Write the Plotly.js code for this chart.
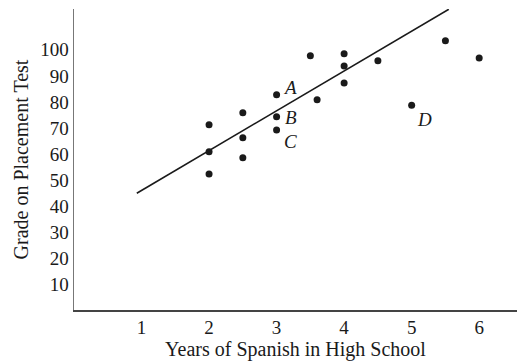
<!DOCTYPE html>
<html>
<head>
<meta charset="utf-8">
<script src="https://cdn.plot.ly/plotly-3.0.1.min.js"></script>
<style>html,body{margin:0;padding:0;background:#fff;}#chart{width:517px;height:364px;}</style>
</head>
<body>
<div id="chart"></div>
<script>
// Data
const years  = [2, 2, 2, 2.5, 2.5, 2.5, 3, 3, 3, 3.5, 3.6, 4, 4, 4, 4.5, 5, 5.5, 6];
const grades = [71.2, 60.8, 52.3, 75.8, 66.2, 58.5, 82.7, 74.3, 69.2, 97.7, 80.8, 98.5, 93.8, 87.3, 95.8, 78.7, 103.5, 96.9];
const fitX = [0.93, 5.55];
const fitY = [44.9, 115.6];
const xTicks = [1, 2, 3, 4, 5, 6];
const yTicks = [10, 20, 30, 40, 50, 60, 70, 80, 90, 100];
const labelNames = ['A', 'B', 'C', 'D'];
const labelX = [3, 3, 3, 5];
const labelY = [82.7, 74.3, 69.2, 78.7];

const font = 'Liberation Serif, Times New Roman, serif';
const ink = '#1a1a1a';
const shifts = [[13, 7], [14, -1], [14, -12], [13, -14]];

const traces = [
  {x: fitX, y: fitY, mode: 'lines', line: {color: ink, width: 1.6}, hoverinfo: 'skip', cliponaxis: true},
  {x: years, y: grades, mode: 'markers', marker: {color: ink, size: 7}, cliponaxis: false}
];

const annotations = labelNames.map((t, i) => ({
  x: labelX[i], y: labelY[i], xref: 'x', yref: 'y', text: t, showarrow: false,
  xshift: shifts[i][0], yshift: shifts[i][1],
  font: {family: font, size: 19, color: ink, style: 'italic'}
}));

const layout = {
  width: 517, height: 364,
  margin: {l: 74, r: 0, t: 9, b: 54},
  paper_bgcolor: '#fff', plot_bgcolor: '#fff',
  showlegend: false,
  font: {family: font, color: ink},
  xaxis: {
    range: [0, 6.56], showgrid: false, zeroline: false,
    showline: true, linecolor: '#444', linewidth: 1.5,
    tickvals: xTicks, ticks: '', tickfont: {family: font, size: 19, color: ink},
    title: {text: 'Years of Spanish in High School', font: {family: font, size: 20, color: ink}, standoff: 4}
  },
  yaxis: {
    range: [0, 115.7], showgrid: false, zeroline: false,
    showline: true, linecolor: '#777', linewidth: 1.5,
    tickvals: yTicks, ticks: '', tickfont: {family: font, size: 19, color: ink},
    title: {text: 'Grade on Placement Test', font: {family: font, size: 20, color: ink}, standoff: 6}
  },
  annotations: annotations
};

Plotly.newPlot('chart', traces, layout, {displayModeBar: false, staticPlot: true});
</script>
</body>
</html>
